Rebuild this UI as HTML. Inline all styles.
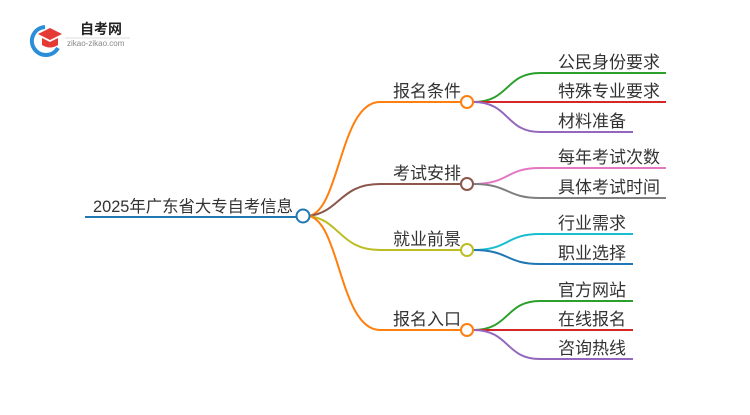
<!DOCTYPE html>
<html><head><meta charset="utf-8"><style>
body{margin:0;background:#fff;}
svg text{font-family:"Liberation Sans","Noto Sans CJK SC",sans-serif;fill:#333;}
</style></head><body>
<svg width="750" height="410" xmlns="http://www.w3.org/2000/svg">
<path d="M45 27 A14 14 0 1 0 58 48" stroke="#2a8fd8" stroke-width="4" fill="none"/>
<path d="M38 34 L50 28 L62 34 L50 40 Z" fill="#e53935"/>
<path d="M42 38 L42 45 Q50 50 58 45 L58 38 L50 42 Z" fill="#e53935"/>
<text x="80" y="34" font-size="14" font-weight="bold" style="fill:#222">自考网</text>
<line x1="65" y1="38" x2="130" y2="38" stroke="#ddd"/>
<text x="67" y="46" font-size="8" style="fill:#888">zikao-zikao.com</text>

<g fill="none" stroke-width="2">
<line x1="85" y1="217" x2="297" y2="217" stroke="#1f77b4"/>
<path d="M309 216 C340 210 340 102 380 102 L461 102" stroke="#ff7f0e"/>
<path d="M309 216 C340 212 340 184 380 184 L461 184" stroke="#8c564b"/>
<path d="M309 216 C340 220 340 250 380 250 L461 250" stroke="#bcbd22"/>
<path d="M309 216 C340 222 340 330 380 330 L461 330" stroke="#ff7f0e"/>

<path d="M473 102 C510 102 505 73 540 73 L666 73" stroke="#2ca02c"/>
<path d="M473 102 L666 102" stroke="#d62728"/>
<path d="M473 102 C510 102 505 132 540 132 L633 132" stroke="#9467bd"/>
<path d="M473 184 C510 184 505 168 540 168 L666 168" stroke="#e377c2"/>
<path d="M473 184 C510 184 505 198 540 198 L666 198" stroke="#7f7f7f"/>
<path d="M473 250 C510 250 505 234 540 234 L633 234" stroke="#17becf"/>
<path d="M473 250 C510 250 505 264 540 264 L633 264" stroke="#1f77b4"/>
<path d="M473 330 C510 330 505 301 540 301 L633 301" stroke="#2ca02c"/>
<path d="M473 330 L633 330" stroke="#d62728"/>
<path d="M473 330 C510 330 505 359 540 359 L633 359" stroke="#9467bd"/>

<circle cx="303" cy="216" r="6.5" stroke="#1f77b4" fill="#fff"/>
<circle cx="467" cy="102" r="6" stroke="#ff7f0e" fill="#fff"/>
<circle cx="467" cy="184" r="6" stroke="#8c564b" fill="#fff"/>
<circle cx="467" cy="250" r="6" stroke="#bcbd22" fill="#fff"/>
<circle cx="467" cy="330" r="6" stroke="#ff7f0e" fill="#fff"/>
</g>

<text x="93" y="212" font-size="16.5" textLength="200" lengthAdjust="spacingAndGlyphs">2025年广东省大专自考信息</text>
<text x="393" y="97" font-size="17">报名条件</text>
<text x="393" y="179" font-size="17">考试安排</text>
<text x="393" y="245" font-size="17">就业前景</text>
<text x="393" y="325" font-size="17">报名入口</text>

<g font-size="17">
<text x="558" y="68">公民身份要求</text>
<text x="558" y="97">特殊专业要求</text>
<text x="558" y="127">材料准备</text>
<text x="558" y="163">每年考试次数</text>
<text x="558" y="193">具体考试时间</text>
<text x="558" y="229">行业需求</text>
<text x="558" y="259">职业选择</text>
<text x="558" y="296">官方网站</text>
<text x="558" y="325">在线报名</text>
<text x="558" y="354">咨询热线</text>
</g>
</svg>
</body></html>
